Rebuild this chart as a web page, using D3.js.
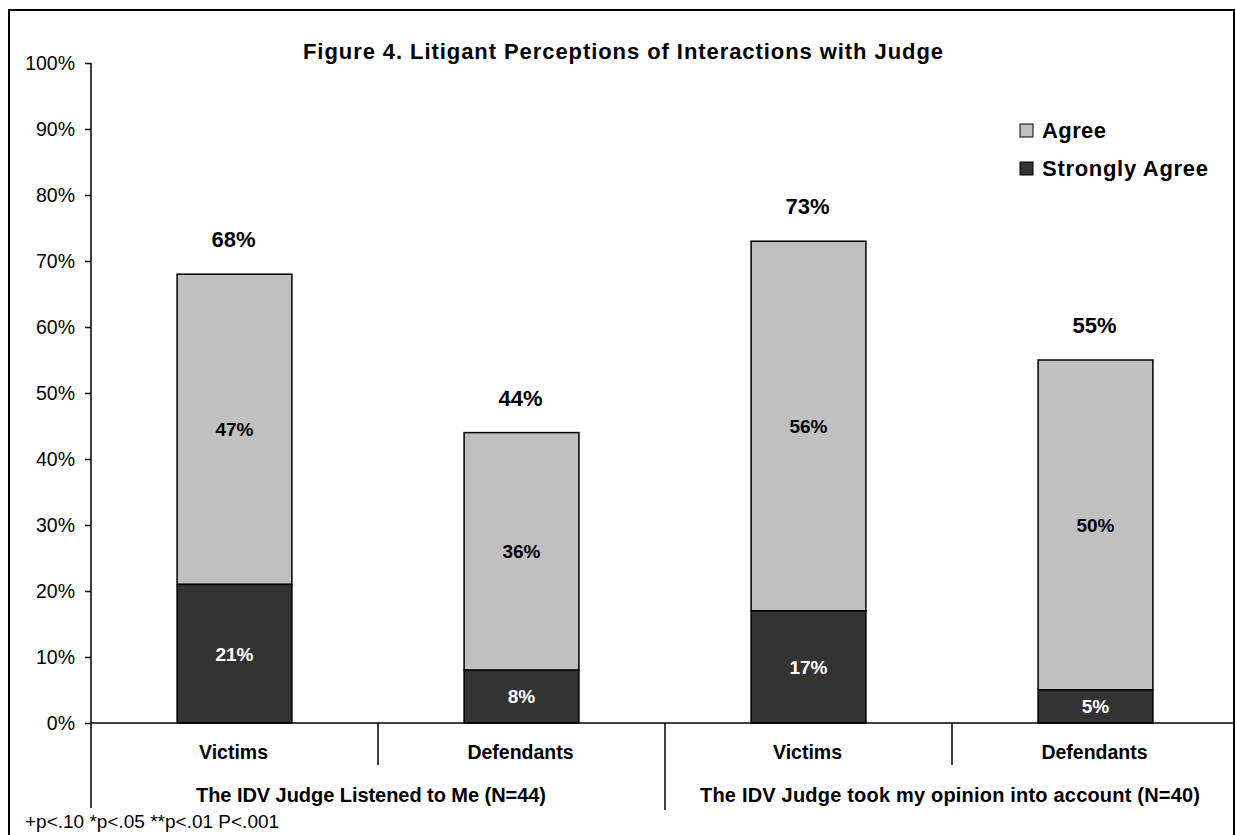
<!DOCTYPE html>
<html>
<head>
<meta charset="utf-8">
<script src="https://cdn.jsdelivr.net/npm/d3@7"></script>
<style>
  body { margin: 0; background: #fff; }
  svg text { font-family: "Liberation Sans", Arial, sans-serif; }
</style>
</head>
<body>
<svg id="chart" width="1236" height="835"></svg>
<script>
// data
const groups = ["The IDV Judge Listened to Me (N=44)", "The IDV Judge took my opinion into account (N=40)"];
const categories = ["Victims", "Defendants", "Victims", "Defendants"];
const strongly = [21, 8, 17, 5];
const agree = [47, 36, 56, 50];
const totals = [68, 44, 73, 55];
const yTicks = [0, 10, 20, 30, 40, 50, 60, 70, 80, 90, 100];

const svg = d3.select("#chart");
const colors = { agree: "#c0c0c0", strong: "#333333" };

// plot frame
const plotLeft = 91, plotRight = 1239, plotTop = 63, plotBottom = 723;

const x = d3.scaleBand().domain(d3.range(categories.length)).range([plotLeft, plotRight]).paddingInner(0).paddingOuter(0);
const y = d3.scaleLinear().domain([0, 100]).range([plotBottom, plotTop]);
const barW = x.bandwidth() * 0.4;

// the original text is drawn a bit wider than Arial, stretch to fit
function stretch(sel, w) {
    sel.attr("textLength", w).attr("lengthAdjust", "spacing");
}

// outer border
svg.append("rect")
    .attr("x", 9).attr("y", 10)
    .attr("width", 1225).attr("height", 900)
    .attr("fill", "#fff").attr("stroke", "#000").attr("stroke-width", 2);

// title
svg.append("text")
    .attr("x", 623).attr("y", 59)
    .attr("text-anchor", "middle")
    .attr("font-size", 22).attr("font-weight", "bold")
    .text("Figure 4. Litigant Perceptions of Interactions with Judge")
    .call(stretch, 640);

// y axis
const yAxis = d3.axisLeft(y).tickValues(yTicks).tickFormat(d => d + "%").tickSize(6).tickSizeOuter(0);
const gy = svg.append("g").attr("transform", `translate(${plotLeft},0)`).call(yAxis);
gy.select(".domain").remove();
gy.selectAll(".tick line").attr("stroke", "#000").attr("stroke-width", 1.5);
gy.selectAll(".tick text").attr("font-size", 19.5).attr("fill", "#000").attr("x", -16).attr("font-family", "Liberation Sans, Arial, sans-serif");

svg.append("line")
    .attr("x1", plotLeft).attr("x2", plotLeft)
    .attr("y1", plotTop).attr("y2", 808)
    .attr("stroke", "#000").attr("stroke-width", 1.5);

// bars
const bars = svg.append("g").attr("class", "bars");
categories.forEach((c, i) => {
    const bx = x(i) + (x.bandwidth() - barW) / 2;
    bars.append("rect")
        .attr("x", bx).attr("y", y(strongly[i] + agree[i]))
        .attr("width", barW).attr("height", y(strongly[i]) - y(strongly[i] + agree[i]))
        .attr("fill", colors.agree).attr("stroke", "#000").attr("stroke-width", 1.5);
    bars.append("rect")
        .attr("x", bx).attr("y", y(strongly[i]))
        .attr("width", barW).attr("height", y(0) - y(strongly[i]))
        .attr("fill", colors.strong).attr("stroke", "#000").attr("stroke-width", 1.5);
});

// labels
const cx = i => x(i) + x.bandwidth() / 2;
const labels = svg.append("g").attr("text-anchor", "middle").attr("font-weight", "bold");
categories.forEach((c, i) => {
    labels.append("text")
        .attr("x", cx(i) - 1).attr("y", y(totals[i]) - 27)
        .attr("font-size", 22)
        .text(totals[i] + "%");
    labels.append("text")
        .attr("x", cx(i)).attr("y", y(strongly[i] + agree[i] / 2)).attr("dy", "0.36em")
        .attr("font-size", 19)
        .text(agree[i] + "%");
    labels.append("text")
        .attr("x", cx(i)).attr("y", y(strongly[i] / 2)).attr("dy", "0.36em")
        .attr("font-size", 19).attr("fill", "#fff")
        .text(strongly[i] + "%");
});

// x axis
svg.append("line")
    .attr("x1", plotLeft).attr("x2", 1234)
    .attr("y1", plotBottom).attr("y2", plotBottom)
    .attr("stroke", "#000").attr("stroke-width", 1.5);

[1, 2, 3].forEach(i => {
    svg.append("line")
        .attr("x1", x(i)).attr("x2", x(i))
        .attr("y1", plotBottom).attr("y2", i === 2 ? 810 : 765)
        .attr("stroke", "#000").attr("stroke-width", 1.5);
});

categories.forEach((c, i) => {
    svg.append("text")
        .attr("x", cx(i) - 1).attr("y", 759)
        .attr("text-anchor", "middle")
        .attr("font-size", 19.5).attr("font-weight", "bold")
        .text(c);
});

const groupWidths = [350, 500];
groups.forEach((g, j) => {
    svg.append("text")
        .attr("x", (x(j * 2) + x(j * 2 + 1) + x.bandwidth()) / 2 - (j === 0 ? 7 : 2)).attr("y", 802)
        .attr("text-anchor", "middle")
        .attr("font-size", 20).attr("font-weight", "bold")
        .text(g)
        .call(stretch, groupWidths[j]);
});

// legend
const legendItems = [
    { label: "Agree", color: colors.agree, w: 64 },
    { label: "Strongly Agree", color: colors.strong, w: 166 }
];
const legend = svg.append("g").attr("transform", "translate(1020,124)");
legendItems.forEach((d, k) => {
    legend.append("rect")
        .attr("x", 0).attr("y", k * 38)
        .attr("width", 13).attr("height", 13)
        .attr("fill", d.color).attr("stroke", "#000").attr("stroke-width", 1);
    legend.append("text")
        .attr("x", 22).attr("y", k * 38 + 14)
        .attr("font-size", 22).attr("font-weight", "bold")
        .text(d.label)
        .call(stretch, d.w);
});

// footnote
svg.append("text")
    .attr("x", 25).attr("y", 828)
    .attr("font-size", 19)
    .text("+p<.10 *p<.05 **p<.01 P<.001");
</script>
</body>
</html>
